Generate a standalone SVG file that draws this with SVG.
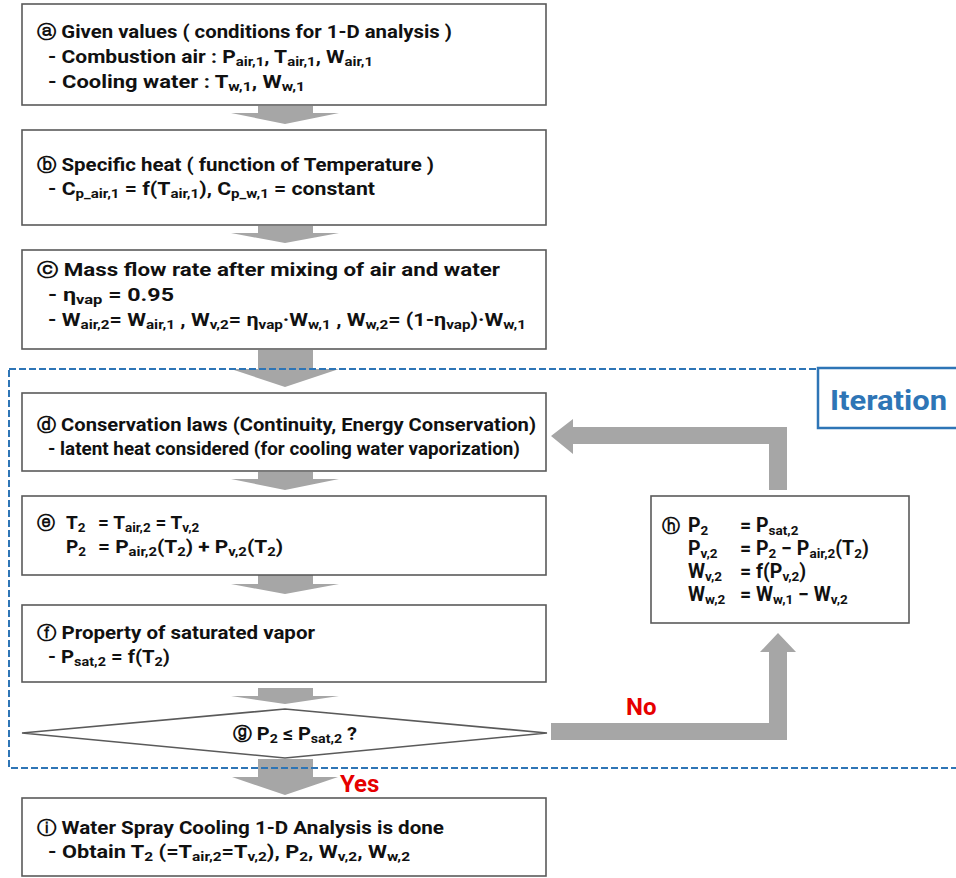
<svg xmlns="http://www.w3.org/2000/svg" width="956" height="878" viewBox="0 0 956 878">
<style>
.box{fill:#fff;stroke:#5a5a5a;stroke-width:1.6}
.t{font-family:Roboto,"Noto Sans",sans-serif;font-weight:700;font-size:19px;fill:#111}
.h{font-size:19.5px}
.s{font-size:13.5px}
.c{font-family:"DejaVu Sans",sans-serif;font-weight:700;font-size:18px}
.arr{fill:#a6a6a6;stroke:none}
.lbl{font-family:Roboto,"Noto Sans",sans-serif;font-weight:700;font-size:24px;fill:#e60000}
.dash{fill:none;stroke:#2e75b6;stroke-width:2;stroke-dasharray:7,3}
</style>
<rect width="956" height="878" fill="#fff"/>
<g id="connectors">
<path class="arr" d="M258,106 H313 V113 H339 L285,124 L231,113 H258 Z"/>
<path class="arr" d="M258,226 H313 V233 H339 L285,243 L231,233 H258 Z"/>
<path class="arr" d="M258,350 H313 V369 H339 L285,387 L231,369 H258 Z"/>
<path class="arr" d="M258,472 H313 V479 H339 L285,490 L231,479 H258 Z"/>
<path class="arr" d="M258,575 H313 V584 H339 L285,594 L231,584 H258 Z"/>
<path class="arr" d="M258,688 H313 V696 H339 L285,704 L231,696 H258 Z"/>
<path class="arr" d="M258,759 H313 V777 H338 L285,795 L232,777 H258 Z"/>
<path class="arr" d="M551,723 H769 V652 H760 L778,633 L796,652 H787 V740 H551 Z"/>
<path class="arr" d="M769,490 V444 H573 V454 L551,436 L573,419 V427 H787 V490 Z"/>
</g>
<g id="node-a">
<rect class="box" x="22" y="4" width="524" height="101"/>
<text class="t" x="37" y="38" textLength="415" lengthAdjust="spacingAndGlyphs"><tspan class="c">ⓐ</tspan> Given values ( conditions for 1-D analysis )</text>
<text class="t" x="48" y="63" textLength="325" lengthAdjust="spacingAndGlyphs">- Combustion air : P<tspan class="s" dy="3">air,1</tspan><tspan dy="-3">, T</tspan><tspan class="s" dy="3">air,1</tspan><tspan dy="-3">, W</tspan><tspan class="s" dy="3">air,1</tspan></text>
<text class="t" x="48" y="88" textLength="257" lengthAdjust="spacingAndGlyphs">- Cooling water : T<tspan class="s" dy="3">w,1</tspan><tspan dy="-3">, W</tspan><tspan class="s" dy="3">w,1</tspan></text>
</g>
<g id="node-b">
<rect class="box" x="22" y="130" width="524" height="95"/>
<text class="t" x="37" y="171" textLength="397" lengthAdjust="spacingAndGlyphs"><tspan class="c">ⓑ</tspan> Specific heat ( function of Temperature )</text>
<text class="t" x="48" y="195" textLength="327" lengthAdjust="spacingAndGlyphs">- C<tspan class="s" dy="3">p_air,1</tspan><tspan dy="-3"> = f(T</tspan><tspan class="s" dy="3">air,1</tspan><tspan dy="-3">), C</tspan><tspan class="s" dy="3">p_w,1</tspan><tspan dy="-3"> = constant</tspan></text>
</g>
<g id="node-c">
<rect class="box" x="22" y="250" width="524" height="99"/>
<text class="t" x="37" y="276" textLength="463" lengthAdjust="spacingAndGlyphs"><tspan class="c">ⓒ</tspan> Mass flow rate after mixing of air and water</text>
<text class="t" x="48" y="301" textLength="126" lengthAdjust="spacingAndGlyphs">- η<tspan class="s" dy="3">vap</tspan><tspan dy="-3"> = 0.95</tspan></text>
<text class="t" x="48" y="326" textLength="478" lengthAdjust="spacingAndGlyphs">- W<tspan class="s" dy="3">air,2</tspan><tspan dy="-3">= W</tspan><tspan class="s" dy="3">air,1</tspan><tspan dy="-3"> , W</tspan><tspan class="s" dy="3">v,2</tspan><tspan dy="-3">= η</tspan><tspan class="s" dy="3">vap</tspan><tspan dy="-3">·W</tspan><tspan class="s" dy="3">w,1</tspan><tspan dy="-3"> , W</tspan><tspan class="s" dy="3">w,2</tspan><tspan dy="-3">= (1-η</tspan><tspan class="s" dy="3">vap</tspan><tspan dy="-3">)·W</tspan><tspan class="s" dy="3">w,1</tspan></text>
</g>
<g id="node-d">
<rect class="box" x="22" y="393" width="524" height="78"/>
<text class="t" x="37" y="431" textLength="499" lengthAdjust="spacingAndGlyphs"><tspan class="c">ⓓ</tspan> Conservation laws (Continuity, Energy Conservation)</text>
<text class="t" x="48" y="455" textLength="472" lengthAdjust="spacingAndGlyphs">- latent heat considered (for cooling water vaporization)</text>
</g>
<g id="node-e">
<rect class="box" x="22" y="496" width="524" height="79"/>
<text class="t" x="37" y="529"><tspan class="c">ⓔ</tspan></text>
<text class="t" x="66" y="529">T<tspan class="s" dy="3">2</tspan></text>
<text class="t" x="98" y="529">= T<tspan class="s" dy="3">air,2</tspan><tspan dy="-3"> = T</tspan><tspan class="s" dy="3">v,2</tspan></text>
<text class="t" x="66" y="553">P<tspan class="s" dy="3">2</tspan></text>
<text class="t" x="98" y="553" textLength="185" lengthAdjust="spacingAndGlyphs">= P<tspan class="s" dy="3">air,2</tspan><tspan dy="-3">(T</tspan><tspan class="s" dy="3">2</tspan><tspan dy="-3">) + P</tspan><tspan class="s" dy="3">v,2</tspan><tspan dy="-3">(T</tspan><tspan class="s" dy="3">2</tspan><tspan dy="-3">)</tspan></text>
</g>
<g id="node-f">
<rect class="box" x="22" y="605" width="524" height="77"/>
<text class="t" x="37" y="639" textLength="278" lengthAdjust="spacingAndGlyphs"><tspan class="c">ⓕ</tspan> Property of saturated vapor</text>
<text class="t" x="48" y="663" textLength="122" lengthAdjust="spacingAndGlyphs">- P<tspan class="s" dy="3">sat,2</tspan><tspan dy="-3"> = f(T</tspan><tspan class="s" dy="3">2</tspan><tspan dy="-3">)</tspan></text>
</g>
<g id="node-g">
<polygon class="box" points="22,733 285,709 547,733 285,758"/>
<text class="t" x="233" y="740" textLength="124" lengthAdjust="spacingAndGlyphs"><tspan class="c">ⓖ</tspan> P<tspan class="s" dy="3">2</tspan><tspan dy="-3"> ≤ P</tspan><tspan class="s" dy="3">sat,2</tspan><tspan dy="-3"> ?</tspan></text>
</g>
<g id="node-h">
<rect class="box" x="651" y="496" width="258" height="127"/>
<text class="t h" x="662" y="532"><tspan class="c">ⓗ</tspan></text>
<text class="t h" x="688" y="532">P<tspan class="s" dy="3">2</tspan></text>
<text class="t h" x="740" y="532">= P<tspan class="s" dy="3">sat,2</tspan></text>
<text class="t h" x="688" y="555">P<tspan class="s" dy="3">v,2</tspan></text>
<text class="t h" x="740" y="555">= P<tspan class="s" dy="3">2</tspan><tspan dy="-3"> − P</tspan><tspan class="s" dy="3">air,2</tspan><tspan dy="-3">(T</tspan><tspan class="s" dy="3">2</tspan><tspan dy="-3">)</tspan></text>
<text class="t h" x="688" y="578">W<tspan class="s" dy="3">v,2</tspan></text>
<text class="t h" x="740" y="578">= f(P<tspan class="s" dy="3">v,2</tspan><tspan dy="-3">)</tspan></text>
<text class="t h" x="688" y="601">W<tspan class="s" dy="3">w,2</tspan></text>
<text class="t h" x="740" y="601">= W<tspan class="s" dy="3">w,1</tspan><tspan dy="-3"> − W</tspan><tspan class="s" dy="3">v,2</tspan></text>
</g>
<g id="node-i">
<rect class="box" x="22" y="798" width="524" height="78"/>
<text class="t" x="37" y="834" textLength="407" lengthAdjust="spacingAndGlyphs"><tspan class="c">ⓘ</tspan> Water Spray Cooling 1-D Analysis is done</text>
<text class="t" x="48" y="858" textLength="362" lengthAdjust="spacingAndGlyphs">- Obtain T<tspan class="s" dy="3">2</tspan><tspan dy="-3"> (=T</tspan><tspan class="s" dy="3">air,2</tspan><tspan dy="-3">=T</tspan><tspan class="s" dy="3">v,2</tspan><tspan dy="-3">), P</tspan><tspan class="s" dy="3">2</tspan><tspan dy="-3">, W</tspan><tspan class="s" dy="3">v,2</tspan><tspan dy="-3">, W</tspan><tspan class="s" dy="3">w,2</tspan></text>
</g>
<g id="iteration-frame">
<rect class="dash" x="9" y="369" width="960" height="399"/>
<rect x="818" y="368" width="150" height="60" fill="#fff" stroke="#2e75b6" stroke-width="2.5"/>
<text x="830" y="410" font-family="Roboto,'Noto Sans',sans-serif" font-weight="700" font-size="28" fill="#2e75b6" textLength="117" lengthAdjust="spacingAndGlyphs">Iteration</text>
</g>
<g id="labels">
<text class="lbl" x="626" y="715">No</text>
<text class="lbl" x="340" y="792">Yes</text>
</g>
</svg>
